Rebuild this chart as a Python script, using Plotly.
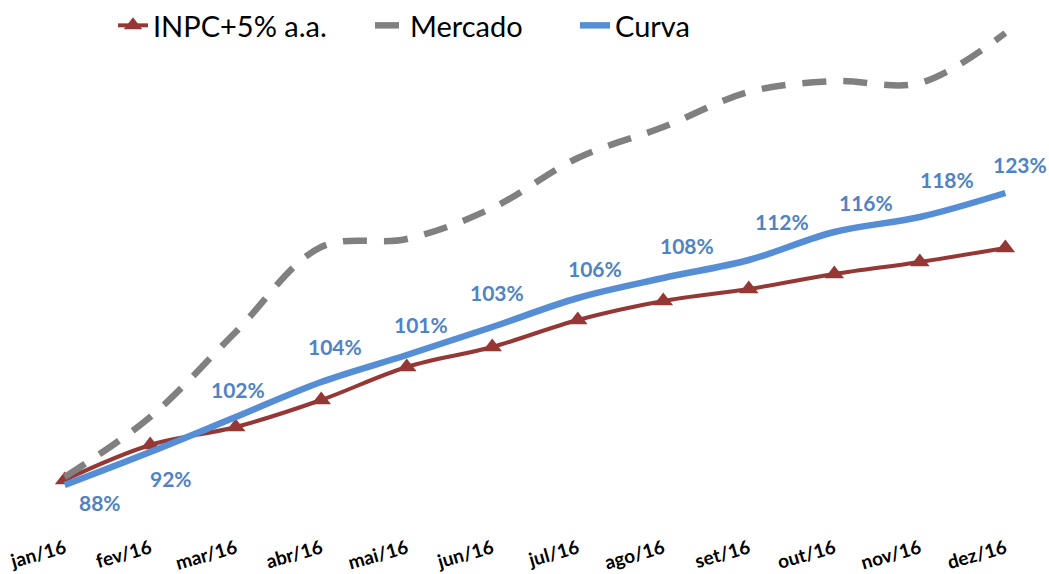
import plotly.graph_objects as go

# Monthly categories
months = ["jan/16", "fev/16", "mar/16", "abr/16", "mai/16", "jun/16",
          "jul/16", "ago/16", "set/16", "out/16", "nov/16", "dez/16"]

# Accumulated returns (%)
inpc_5 = [0.0, 1.75, 2.65, 4.0, 5.65, 6.65, 8.0, 8.95, 9.55, 10.3, 10.9, 11.6]
mercado = [0.15, 3.15, 7.4, 11.65, 12.05, 13.6, 16.1, 17.65, 19.4, 19.95, 19.85, 22.35]
curva = [-0.25, 1.4, 3.15, 4.9, 6.25, 7.65, 9.1, 10.1, 11.0, 12.4, 13.15, 14.35]

# Data labels shown over the Curva line
curva_labels = ["88%", "92%", "102%", "104%", "101%", "103%",
                "106%", "108%", "112%", "116%", "118%", "123%"]

RED = "#953735"
GRAY = "#808080"
BLUE = "#558ED5"
LABEL_BLUE = "#4F83C4"
FONT = "Lato"

xs = list(range(len(months)))

fig = go.Figure()

fig.add_trace(go.Scatter(
    x=xs, y=inpc_5, name="INPC+5% a.a.", mode="lines+markers",
    line=dict(color=RED, width=4, shape="spline"),
    marker=dict(symbol="triangle-up", size=17, color=RED),
    cliponaxis=False, legend="legend",
))
fig.add_trace(go.Scatter(
    x=xs, y=mercado, name="Mercado", mode="lines",
    line=dict(color=GRAY, width=6.5, shape="spline", dash="24px,17px"),
    cliponaxis=False, legend="legend2",
))
fig.add_trace(go.Scatter(
    x=xs, y=curva, name="Curva", mode="lines",
    line=dict(color=BLUE, width=6.5, shape="spline"),
    cliponaxis=False, legend="legend3",
))

# label offsets in pixels (right, up) relative to each Curva point
label_dx = [35, 21, 2, 14, 14, 5, 17, 24, 33, 32, 27, 15]
label_dy = [-17, -26, 28, 36, 31, 35, 30, 33, 39, 30, 38, 29]

for i, (yv, txt) in enumerate(zip(curva, curva_labels)):
    fig.add_annotation(
        x=xs[i], y=yv, text=txt, showarrow=False,
        xshift=label_dx[i], yshift=label_dy[i],
        font=dict(family=FONT, size=21, color=LABEL_BLUE, weight="bold"),
    )


def legend_box(left_px):
    return dict(
        orientation="h", xref="container", yref="container",
        x=left_px / 1049, y=1, xanchor="left", yanchor="top",
        font=dict(family=FONT, size=29, color="#000000"),
        bgcolor="rgba(0,0,0,0)", itemwidth=30,
    )


fig.update_layout(
    width=1049, height=574,
    margin=dict(l=39.4, r=18.4, t=20, b=74, autoexpand=False),
    paper_bgcolor="white", plot_bgcolor="white",
    showlegend=True,
    legend=legend_box(113),
    legend2=legend_box(370),
    legend3=legend_box(575),
    xaxis=dict(
        range=[-0.3, 11.3], tickmode="array", tickvals=xs, ticktext=months,
        tickangle=-16, showgrid=False, zeroline=False, showline=False,
        ticks="", ticklabelstandoff=33,
        tickfont=dict(family=FONT, size=19, color="#000000", weight="bold"),
    ),
    yaxis=dict(
        range=[-1, 23], showgrid=False, zeroline=False, showline=False,
        showticklabels=False, ticks="",
    ),
)

fig.write_html("out.html")
